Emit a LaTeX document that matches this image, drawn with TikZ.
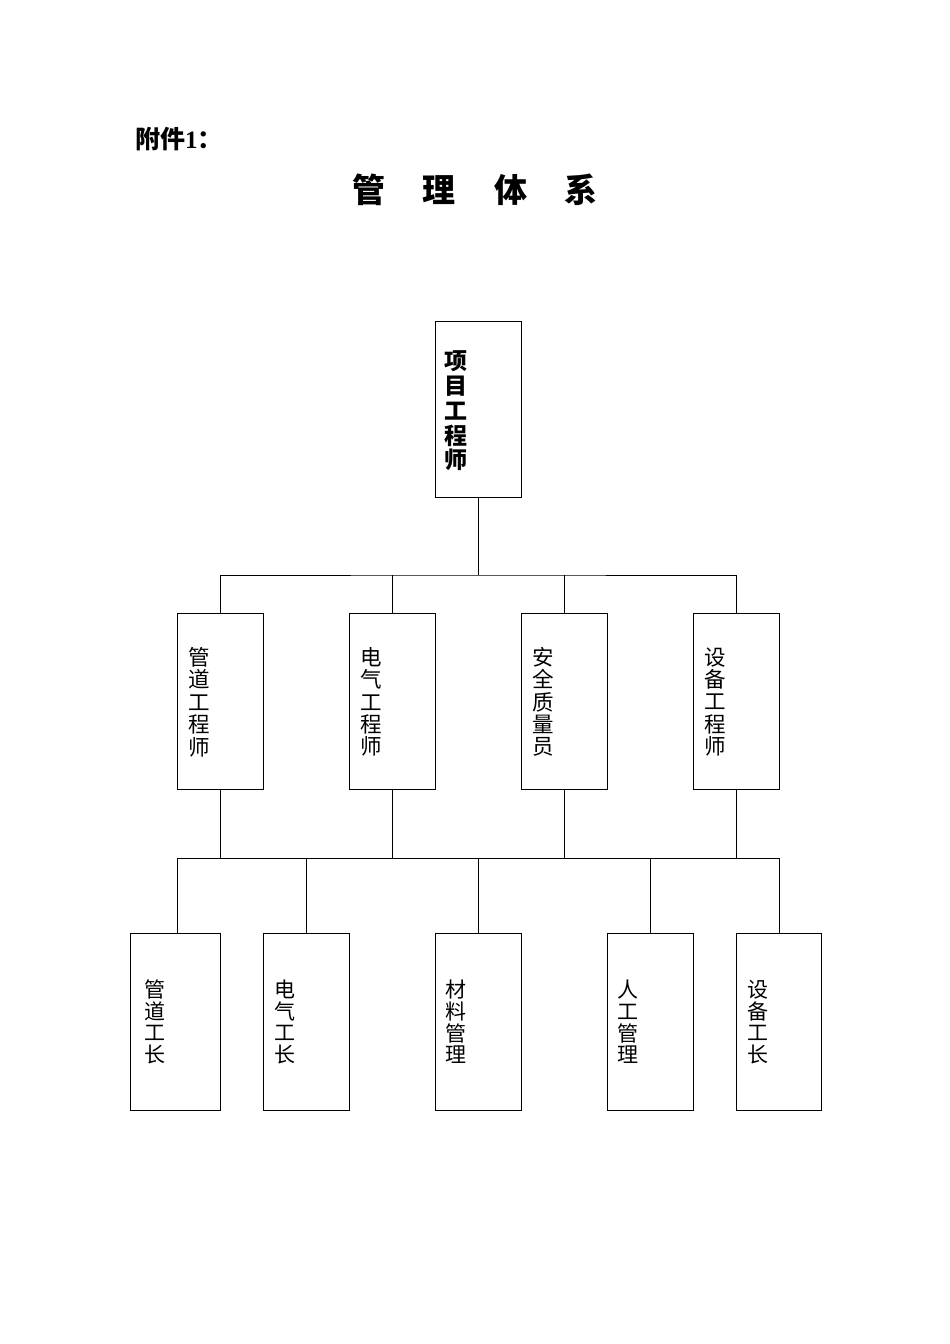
\documentclass[tikz,border=0pt]{standalone}
\usepackage{fontspec}
\newfontfamily\cjk{Noto Sans CJK SC}
\newfontfamily\tms{Liberation Serif}
\begin{document}
\begin{tikzpicture}[x=1pt,y=-1pt,
  box/.style={draw,line width=1pt,inner sep=0pt,minimum width=86pt,minimum height=176pt},
  conn/.style={line width=1pt},
  toplbl/.style={inner sep=0pt,align=center,text width=24pt,font=\cjk\bfseries\fontsize{23}{24.8}\selectfont},
  midlbl/.style={inner sep=0pt,align=center,text width=24pt,font=\cjk\fontsize{21.5}{22.4}\selectfont},
  lowlbl/.style={inner sep=0pt,align=center,text width=24pt,font=\cjk\fontsize{21}{21.7}\selectfont}]
\useasboundingbox (0,0) rectangle (950,1344);
% header and title
\node[anchor=base west,inner sep=0pt,font=\cjk\bfseries\fontsize{25}{25}\selectfont] (hdr) at (135,148) {附件{\tms\bfseries 1}：};
\node[anchor=center,inner sep=0pt,font=\cjk\bfseries\fontsize{33}{33}\selectfont] (title) at (475,190) {管\hspace{38pt}理\hspace{38pt}体\hspace{38pt}系};
% top box
\node[box] (top) at (478,409) {};
\node[toplbl] (topt) at (456,411) {项\\目\\工\\程\\师};
% middle boxes
\node[box] (m1) at (220,701) {};
\node[box] (m2) at (392,701) {};
\node[box] (m3) at (564,701) {};
\node[box] (m4) at (736,701) {};
\node[midlbl] (m1t) at (199,702) {管\\道\\工\\程\\师};
\node[midlbl] (m2t) at (371,702) {电\\气\\工\\程\\师};
\node[midlbl] (m3t) at (543,702) {安\\全\\质\\量\\员};
\node[midlbl] (m4t) at (715,702) {设\\备\\工\\程\\师};
% bottom boxes
\node[box,minimum width=90pt,minimum height=177pt] (l1) at (175.5,1021.5) {};
\node[box,minimum height=177pt] (l2) at (306,1021.5) {};
\node[box,minimum height=177pt] (l3) at (478,1021.5) {};
\node[box,minimum height=177pt] (l4) at (650,1021.5) {};
\node[box,minimum width=85pt,minimum height=177pt] (l5) at (778.5,1021.5) {};
\node[lowlbl] (l1t) at (155,1022) {管\\道\\工\\长};
\node[lowlbl] (l2t) at (285,1022) {电\\气\\工\\长};
\node[lowlbl] (l3t) at (456,1022) {材\\料\\管\\理};
\node[lowlbl] (l4t) at (628,1022) {人\\工\\管\\理};
\node[lowlbl] (l5t) at (758,1022) {设\\备\\工\\长};
% connectors level 1
\coordinate (bar1) at (478,575);
\draw[conn] (top.south) -- (bar1);
\draw[conn] (m1.north) |- (bar1) -| (m4.north);
\draw[conn] (m2.north) -- (m2.north |- bar1);
\draw[conn] (m3.north) -- (m3.north |- bar1);
% connectors level 2
\coordinate (bar2) at (478,858);
\coordinate (l1top) at (177.3,933);
\draw[conn] (m1.south) -- (m1.south |- bar2);
\draw[conn] (m2.south) -- (m2.south |- bar2);
\draw[conn] (m3.south) -- (m3.south |- bar2);
\draw[conn] (m4.south) -- (m4.south |- bar2);
\draw[conn] (l1top) |- (bar2) -| ([xshift=0.5pt]l5.north);
\draw[conn] (l2.north) -- (l2.north |- bar2);
\draw[conn] (l3.north) -- (l3.north |- bar2);
\draw[conn] (l4.north) -- (l4.north |- bar2);
\end{tikzpicture}
\end{document}
